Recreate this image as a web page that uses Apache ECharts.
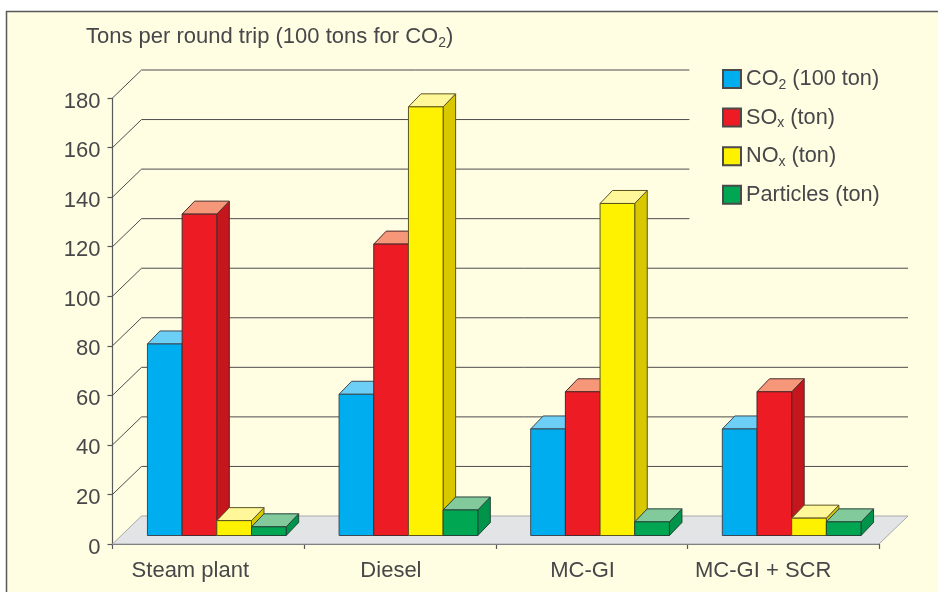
<!DOCTYPE html>
<html>
<head>
<meta charset="utf-8">
<style>html,body{margin:0;padding:0;background:#fff}#c{width:938px;height:592px}</style>
<script src="https://cdn.jsdelivr.net/npm/echarts@6/dist/echarts.min.js"></script>
</head>
<body>
<div id="c"></div>
<script>
var categories = ['Steam plant', 'Diesel', 'MC-GI', 'MC-GI + SCR'];
var seriesNames = ['CO2 (100 ton)', 'SOx (ton)', 'NOx (ton)', 'Particles (ton)'];
var co2 = [77.3, 57, 43, 43];
var sox = [129.7, 117.6, 58, 58];
var nox = [6, 173, 134, 7];
var particles = [3.5, 10.3, 5.5, 5.5];
var yTicks = [20, 40, 60, 80, 100, 120, 140, 160, 180];

var allValues = [co2, sox, nox, particles];
var front = ['#00aeef', '#ed1c24', '#fff200', '#00a651'];
var topFace = ['#6dcff6', '#f7977a', '#fff799', '#82ca9c'];
var sideFace = ['#0088bb', '#c4161c', '#d9c800', '#00934a'];
var outline = ['#3d4a55', '#4a2a2a', '#5a5520', '#24453a'];
var FONT = '"Liberation Sans", Arial, sans-serif';
var TXT = '#47474a';
var LINE = '#58595b';
var WALL_DX = 29, WALL_DY = -28;
var BASE_DX = 8.5, BASE_DY = -8.5;
var DEPTH_DX = 12.5, DEPTH_DY = -13;

function barRender(k) {
  return function (params, api) {
    var i = api.value(0), v = api.value(1);
    var cx = api.coord([i, 0])[0] + BASE_DX;
    var band = api.size([1, 0])[0];
    var w = band * 0.181;
    var x0 = cx + (k - 2) * w, x1 = x0 + w;
    var yb = api.coord([i, 0])[1] + BASE_DY;
    var yt = api.coord([i, v])[1] + BASE_DY;
    var s = {stroke: outline[k], lineWidth: 1, lineJoin: 'round'};
    return {type: 'group', children: [
      {type: 'polygon', shape: {points: [[x1, yb], [x1 + DEPTH_DX, yb + DEPTH_DY], [x1 + DEPTH_DX, yt + DEPTH_DY], [x1, yt]]},
        style: Object.assign({fill: sideFace[k]}, s)},
      {type: 'polygon', shape: {points: [[x0, yt], [x1, yt], [x1 + DEPTH_DX, yt + DEPTH_DY], [x0 + DEPTH_DX, yt + DEPTH_DY]]},
        style: Object.assign({fill: topFace[k]}, s)},
      {type: 'rect', shape: {x: x0, y: yt, width: w, height: yb - yt},
        style: Object.assign({fill: front[k]}, s)}
    ]};
  };
}

var subStyle = {fontFamily: FONT, fontSize: 14, fontWeight: 'normal', color: TXT, verticalAlign: 'bottom', lineHeight: 14, padding: [0, 0, -1, 0]};
var titleStyle = {fontFamily: FONT, fontSize: 22, fontWeight: 'normal', color: TXT, lineHeight: 24};
var legendStyle = {fontFamily: FONT, fontSize: 21.7, fontWeight: 'normal', color: TXT, lineHeight: 24};

var labelShift = [36, 18, 18, 40];

var barSeries = seriesNames.map(function (name, k) {
  return {
    type: 'custom', name: name, z: 5 + k, clip: false,
    renderItem: barRender(k),
    encode: {x: 0, y: 1},
    itemStyle: {color: front[k], borderColor: '#4a4a4a', borderWidth: 1},
    data: allValues[k].map(function (v, i) { return [i, v]; })
  };
});

var option = {
  animation: false,
  backgroundColor: '#ffffff',
  textStyle: {fontFamily: FONT},
  graphic: [{type: 'rect', z: -10, silent: true,
    shape: {x: 6.5, y: 11.5, width: 960, height: 620},
    style: {fill: '#fffde2', stroke: LINE, lineWidth: 1.5}}],
  title: {
    left: 86, top: 25, padding: 0,
    text: '{a|Tons per round trip (100 tons for CO}{s|2}{a|)}',
    textStyle: {fontWeight: 'normal', rich: {a: titleStyle, s: subStyle}}
  },
  legend: {
    orient: 'vertical', left: 722, top: 68,
    itemWidth: 18, itemHeight: 18, itemGap: 14.6,
    padding: 0, selectedMode: false,
    icon: 'rect',
    data: seriesNames,
    formatter: function (n) {
      var m = n.match(/^(CO|SO|NO)(2|x)(.*)$/);
      if (m) return '{a|' + m[1] + '}{s|' + m[2] + '}{a|' + m[3] + '}';
      return '{a|' + n + '}';
    },
    textStyle: {padding: [0, 0, 0, 0], rich: {a: legendStyle, s: subStyle}}
  },
  grid: {left: 112.5, right: 59, top: 98, bottom: 48, containLabel: false},
  xAxis: {
    type: 'category', data: categories,
    axisLine: {lineStyle: {color: LINE, width: 1.2}},
    axisTick: {show: true, length: 5, alignWithLabel: false, lineStyle: {color: LINE, width: 1.2}},
    axisLabel: {
      margin: 16,
      interval: 0,
      formatter: function (v) { return '{l' + categories.indexOf(v) + '|' + v + '}'; },
      rich: labelShift.reduce(function (acc, sh, i) {
        acc['l' + i] = {fontFamily: FONT, fontSize: 22, color: TXT, padding: [0, sh, 0, 0]};
        return acc;
      }, {})
    }
  },
  yAxis: {
    type: 'value', min: 0, max: 180, interval: 20,
    axisLine: {show: true, lineStyle: {color: LINE, width: 1.2}},
    axisTick: {show: true, length: 5, lineStyle: {color: LINE, width: 1.2}},
    axisLabel: {
      margin: 12,
      formatter: '{v|{value}}',
      rich: {v: {fontFamily: FONT, fontSize: 22, color: TXT, padding: [7, 0, 0, 0]}}
    },
    splitLine: {show: false}
  },
  series: [
    {
      type: 'custom', name: 'floor', z: 1, clip: false, silent: true,
      encode: {y: 0},
      data: [[0]],
      renderItem: function (params, api) {
        var cs = params.coordSys;
        var l = cs.x, r = cs.x + cs.width, y = api.coord([0, api.value(0)])[1];
        return {type: 'polygon',
          shape: {points: [[l, y], [r, y], [r + WALL_DX, y + WALL_DY], [l + WALL_DX, y + WALL_DY]]},
          style: {fill: '#e3e4e6', stroke: '#a7a9ac', lineWidth: 1}};
      }
    },
    {
      type: 'custom', name: 'wall', z: 2, clip: false, silent: true,
      encode: {y: 0},
      data: yTicks.map(function (t) { return [t]; }),
      renderItem: function (params, api) {
        var cs = params.coordSys, t = api.value(0);
        var y = api.coord([0, t])[1];
        var l = cs.x, end = t >= 120 ? cs.x + cs.width * 0.75 + 2 : cs.x + cs.width + WALL_DX;
        return {type: 'polyline',
          shape: {points: [[l, y], [l + WALL_DX, y + WALL_DY], [end, y + WALL_DY]]},
          style: {fill: 'none', stroke: '#4d4d4f', lineWidth: 1}};
      }
    }
  ].concat(barSeries)
};
var chart = echarts.init(document.getElementById('c'), null, {renderer: 'canvas'});
chart.setOption(option);
</script>
</body>
</html>
